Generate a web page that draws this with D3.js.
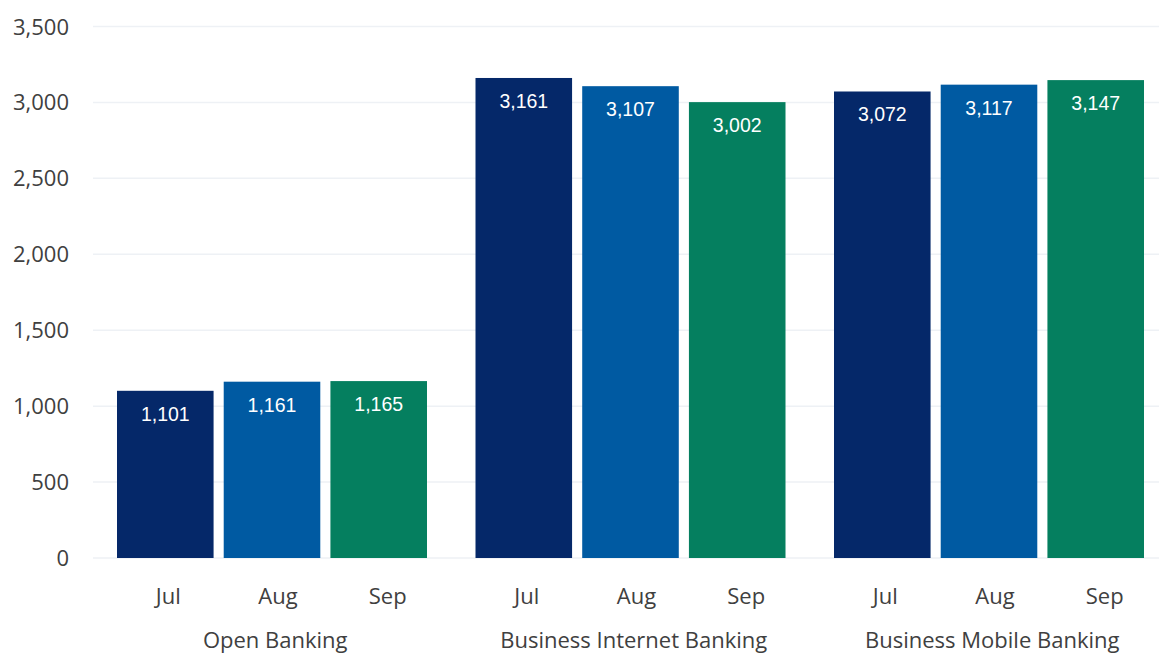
<!DOCTYPE html>
<html>

<head>
    <meta charset="utf-8" />
    <title>Banking channels</title>
    <style>
        html, body {
            margin: 0;
            padding: 0;
            background: #fff;
        }
        .axis text {
            font-family: "Open Sans", sans-serif;
            fill: #404040;
        }
    </style>
</head>

<body>
    <svg width="1159" height="655"></svg>
    <script src="https://d3js.org/d3.v7.min.js"></script>
    <script>
        var groups = ["Open Banking", "Business Internet Banking", "Business Mobile Banking"];
        var months = ["Jul", "Aug", "Sep"];
        var julValues = [1101, 3161, 3072];
        var augValues = [1161, 3107, 3117];
        var sepValues = [1165, 3002, 3147];
        var yTicks = [0, 500, 1000, 1500, 2000, 2500, 3000, 3500];
        var colors = ["#052869", "#005aa2", "#057f5f"];

        var series = [julValues, augValues, sepValues];
        var data = [];
        groups.forEach(function (g, gi) {
            months.forEach(function (m, mi) {
                data.push({ group: g, month: m, value: series[mi][gi], mi: mi });
            });
        });

        var svg = d3.select("svg"),
            margin = { left: 93, top: 26.5, bottom: 97 },
            plotW = 358.5 * 3,
            plotH = 655 - margin.top - margin.bottom;

        var x0 = d3.scaleBand().domain(groups).range([margin.left, margin.left + plotW]);
        var x1 = d3.scaleBand().domain(months).range([24, x0.bandwidth() - 24.5]).paddingInner(0.095);
        var y = d3.scaleLinear().domain([0, 3500]).range([margin.top + plotH, margin.top]);

        // gridlines
        svg.append("g")
            .selectAll("line")
            .data(yTicks)
            .enter().append("line")
            .attr("x1", margin.left)
            .attr("x2", margin.left + plotW)
            .attr("y1", function (d) { return y(d); })
            .attr("y2", function (d) { return y(d); })
            .attr("stroke", "#eef1f5")
            .attr("stroke-width", 1.5);

        // y axis labels
        svg.append("g")
            .attr("class", "axis")
            .selectAll("text")
            .data(yTicks)
            .enter().append("text")
            .attr("x", 69)
            .attr("y", function (d) { return y(d) + 8; })
            .attr("text-anchor", "end")
            .attr("font-size", 22)
            .text(d3.format(","));

        var g = svg.append("g")
            .selectAll("g")
            .data(data)
            .enter().append("g")
            .attr("transform", function (d) { return "translate(" + (x0(d.group) + x1(d.month)) + ",0)"; });

        g.append("rect")
            .attr("x", 0)
            .attr("y", function (d) { return y(d.value); })
            .attr("width", x1.bandwidth())
            .attr("height", function (d) { return y(0) - y(d.value); })
            .attr("fill", function (d) { return colors[d.mi]; });

        g.append("text")
            .attr("x", x1.bandwidth() / 2)
            .attr("y", function (d) { return y(d.value) + 30; })
            .attr("text-anchor", "middle")
            .attr("font-family", "Liberation Sans, Arial, sans-serif")
            .attr("font-size", 19.5)
            .attr("fill", "#fff")
            .text(function (d) { return d3.format(",")(d.value); });

        // month labels
        var ax = svg.append("g").attr("class", "axis");
        ax.selectAll("text.month")
            .data(data)
            .enter().append("text")
            .attr("class", "month")
            .attr("x", function (d) { return x0(d.group) + x1(d.month) + x1.bandwidth() / 2 + 3 + d.mi * 3; })
            .attr("y", 604)
            .attr("text-anchor", "middle")
            .attr("font-size", 22)
            .text(function (d) { return d.month; });

        ax.selectAll("text.group")
            .data(groups)
            .enter().append("text")
            .attr("class", "group")
            .attr("x", function (d) { return x0(d) + x0.bandwidth() / 2 + 3; })
            .attr("y", 648)
            .attr("text-anchor", "middle")
            .attr("font-size", 22)
            .text(function (d) { return d; });
    </script>
</body>

</html>
